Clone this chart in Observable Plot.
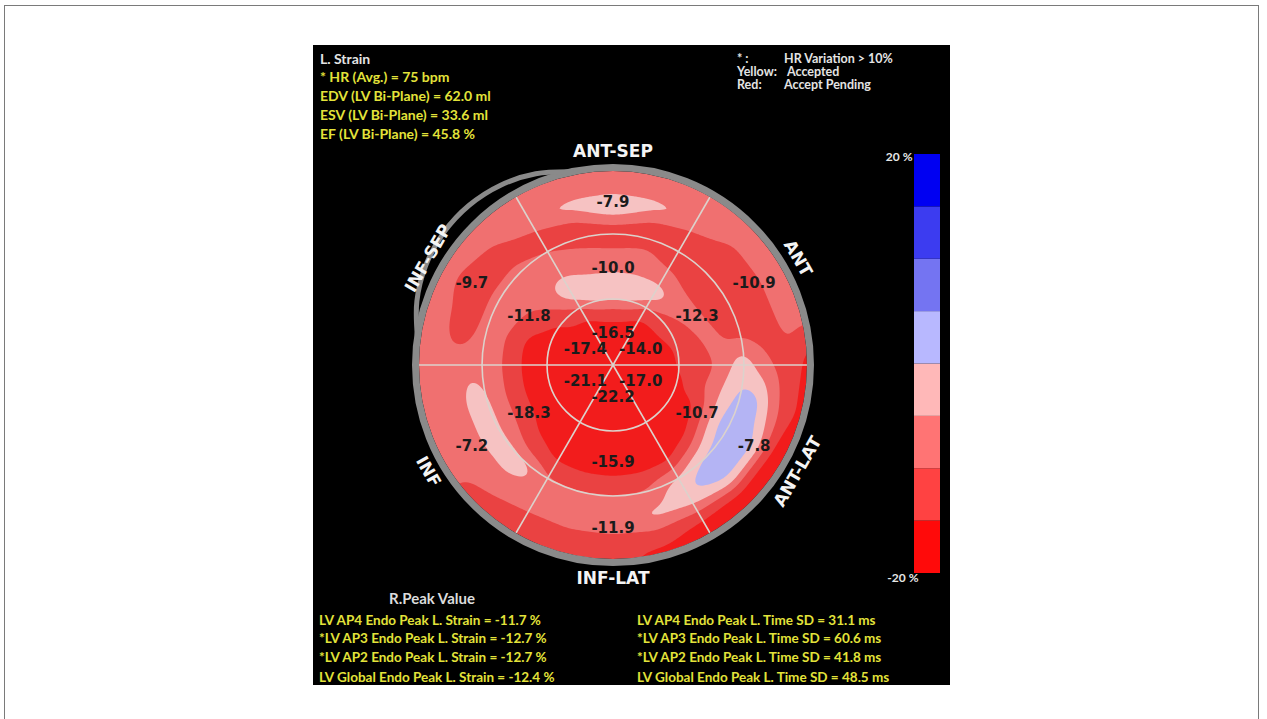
<!DOCTYPE html>
<html>
<head>
<meta charset="utf-8">
<script src="https://cdn.jsdelivr.net/npm/d3@7"></script>
<script src="https://cdn.jsdelivr.net/npm/@observablehq/plot@0.6"></script>
<style>
html, body { margin: 0; padding: 0; background: #fff; width: 1267px; height: 719px; overflow: hidden; }
#frame { position: absolute; left: 4px; top: 5px; width: 1255px; height: 730px; border: 1.5px solid #7a7a7a; border-bottom: none; box-sizing: border-box; }
#panel { position: absolute; left: 313px; top: 45px; width: 637px; height: 640px; background: #000; overflow: hidden; }
.t { position: absolute; z-index: 5; font-family: Lato, "DejaVu Sans", sans-serif; font-weight: bold; white-space: pre; }
.y { color: #e3e33a; font-size: 14px; line-height: 16px; }
.w { color: #e4e4e4; font-size: 14px; line-height: 16px; }
.n { color: #e4e4e4; font-size: 12.5px; line-height: 13px; }
.f { color: #e3e33a; font-size: 13.5px; line-height: 16px; }
#bull { position: absolute; left: 57px; top: 77px; z-index: 1; }
#legend { position: absolute; left: 557px; top: 99px; z-index: 2; }
</style>
</head>
<body>
<div id="frame"></div>
<div id="panel">
  <div id="bull"></div>
  <div id="legend"></div>
  <div id="header"></div>
  <div id="footer"></div>
</div>
<script>
// ---------- text content ----------
const headerLines = [
  {text: "L. Strain", cls: "w", top: 6},
  {text: "* HR (Avg.) = 75 bpm", cls: "y", top: 24},
  {text: "EDV (LV Bi-Plane) = 62.0 ml", cls: "y", top: 43},
  {text: "ESV (LV Bi-Plane) = 33.6 ml", cls: "y", top: 62},
  {text: "EF (LV Bi-Plane) = 45.8 %", cls: "y", top: 81}
];
const noteLines = [
  {a: "* :", b: "HR Variation > 10%", top: 7},
  {a: "Yellow:", b: "Accepted", top: 20, tight: true},
  {a: "Red:", b: "Accept Pending", top: 33}
];
const footerTitle = "R.Peak Value";
const footerLeft = [
  "LV AP4 Endo Peak L. Strain = -11.7 %",
  "*LV AP3 Endo Peak L. Strain = -12.7 %",
  "*LV AP2 Endo Peak L. Strain = -12.7 %",
  "LV Global Endo Peak L. Strain = -12.4 %"
];
const footerRight = [
  "LV AP4 Endo Peak L. Time SD = 31.1 ms",
  "*LV AP3 Endo Peak L. Time SD = 60.6 ms",
  "*LV AP2 Endo Peak L. Time SD = 41.8 ms",
  "LV Global Endo Peak L. Time SD = 48.5 ms"
];
const footerTops = [567, 585, 604, 624];

// ---------- segment data (18-segment bull's eye) ----------
const segmentAngles = [90, 30, -30, -90, -150, 150];
const wallNames = ["ANT-SEP", "ANT", "ANT-LAT", "INF-LAT", "INF", "INF-SEP"];
const wallRotate = [0, 60, -60, 0, 60, -60];
const outerValues = [-7.9, -10.9, -7.8, -11.9, -7.2, -9.7];
const midValues = [-10.0, -12.3, -10.7, -15.9, -18.3, -11.8];
const innerValues = [-16.5, -14.0, -17.0, -22.2, -21.1, -17.4];
const dividerAngles = [0, 60, 120, 180, 240, 300];
const ringRadii = [0.34, 0.675];

// ---------- strain map samples ----------
const centerStrain = -19;
const fieldAngles = [0, 15, 30, 45, 60, 75, 90, 105, 120, 135, 150, 165, 180, 195, 210, 225, 240, 255, 270, 285, 300, 315, 330, 345];
const fieldRadii = [0.05, 0.10, 0.15, 0.20, 0.25, 0.30, 0.35, 0.40, 0.45, 0.50, 0.55, 0.60, 0.65, 0.70, 0.75, 0.80, 0.85, 0.90, 0.95, 1.00];
const fieldValues = [
  /*   0 */ [-18,-18,-18,-18,-18,-18,-12,-12,-12,-12,-8,-8,-1,-1,-8,-8,-12,-12,-12,-18],
  /*  15 */ [-18,-18,-18,-18,-18,-18,-12,-12,-12,-8,-8,-12,-12,-12,-12,-12,-12,-8,-8,-8],
  /*  30 */ [-18,-18,-18,-18,-18,-12,-12,-12,-8,-8,-12,-12,-12,-12,-12,-12,-12,-8,-8,-8],
  /*  45 */ [-18,-18,-18,-18,-18,-12,-12,-8,-8,-8,-12,-12,-12,-12,-12,-12,-12,-8,-8,-8],
  /*  60 */ [-18,-18,-18,-18,-18,-12,-12,-1,-1,-8,-8,-12,-12,-12,-12,-12,-3.5,-8,-8,-8],
  /*  75 */ [-18,-18,-18,-18,-12,-12,-1,-1,-1,-8,-8,-8,-12,-12,-12,-8,-0.5,-8,-8,-8],
  /*  90 */ [-18,-18,-18,-18,-12,-12,-1,-1,-1,-8,-8,-8,-15.5,-12,-8,-0.5,-0.5,-8,-8,-8],
  /* 105 */ [-18,-18,-18,-18,-12,-12,-1,-1,-1,-8,-8,-8,-12,-12,-12,-8,-0.5,-8,-8,-8],
  /* 120 */ [-18,-18,-18,-18,-18,-12,-12,-1,-1,-1,-8,-8,-8,-12,-12,-12,-3.5,-8,-8,-8],
  /* 135 */ [-18,-18,-18,-18,-18,-12,-12,-12,-8,-8,-8,-8,-8,-8,-12,-12,-12,-8,-8,-8],
  /* 150 */ [-18,-18,-18,-18,-18,-18,-18,-12,-12,-12,-8,-8,-8,-8,-12,-12,-12,-12,-8,-8],
  /* 165 */ [-18,-18,-18,-18,-18,-18,-18,-18,-18,-12,-12,-8,-8,-8,-12,-12,-12,-8,-8,-8],
  /* 180 */ [-18,-18,-18,-18,-18,-18,-18,-18,-18,-12,-12,-8,-8,-8,-8,-8,-8,-8,-8,-8],
  /* 195 */ [-18,-18,-18,-18,-18,-18,-18,-18,-18,-12,-12,-8,-8,-0.5,-0.5,-8,-8,-8,-8,-8],
  /* 210 */ [-18,-18,-18,-18,-18,-18,-18,-18,-18,-12,-12,-8,-8,-0.5,-0.5,-8,-8,-8,-8,-8],
  /* 225 */ [-18,-18,-18,-18,-18,-18,-18,-18,-18,-18,-12,-12,-8,-0.5,-0.5,-8,-8,-8,-12,-12],
  /* 240 */ [-18,-18,-18,-18,-18,-18,-18,-18,-18,-18,-18,-12,-12,-8,-8,-8,-8,-12,-12,-12],
  /* 255 */ [-18,-18,-18,-18,-18,-18,-18,-18,-18,-18,-18,-12,-12,-8,-8,-8,-8,-12,-12,-12],
  /* 270 */ [-18,-18,-18,-18,-18,-18,-18,-18,-18,-18,-18,-12,-12,-8,-8,-8,-8,-12,-12,-12],
  /* 285 */ [-18,-18,-18,-18,-18,-18,-18,-18,-18,-18,-18,-12,-12,-8,-8,-1,-8,-12,-12,-18],
  /* 300 */ [-18,-18,-18,-18,-18,-18,-18,-18,-18,-18,-18,-12,-8,-1,-1,-1,-8,-12,-18,-18],
  /* 315 */ [-18,-18,-18,-18,-18,-18,-18,-18,-18,-18,-12,-8,-1,3,3,3,-1,-12,-18,-18],
  /* 330 */ [-18,-18,-18,-18,-18,-18,-18,-18,-18,-12,-8,-1,3,3,3,3,-1,-12,-18,-18],
  /* 345 */ [-18,-18,-18,-18,-18,-18,-18,-12,-12,-8,-8,-1,-1,3,3,-1,-8,-12,-12,-18]
];

// ---------- colour bar ----------
const legendLo = [-20, -15, -10, -5, 0, 5, 10, 15];
const legendHi = [-15, -10, -5, 0, 5, 10, 15, 20];
const bandBreaks = [-15, -10, -5, 0, 5, 10, 15];
const bullColors = ["#f21c1c", "#ea4242", "#f07070", "#f6c2c2", "#b4b4f4", "#7575ee", "#3c3cee", "#0000f0"];
const barColors = ["#ff0a0a", "#ff4242", "#ff7474", "#ffb8b8", "#b8b8ff", "#7474f2", "#3c3cf0", "#0000f2"];

// extra outer arc (top-left) : angle and offset beyond the ring
const arcAngles = [102, 112, 122, 132, 142, 152, 162, 172];
const arcOffsets = [0, 0.045, 0.075, 0.09, 0.09, 0.075, 0.045, 0];

// ---------- HTML text ----------
const header = document.getElementById("header");
headerLines.forEach(l => {
  const d = document.createElement("div");
  d.className = "t " + l.cls; d.style.left = "7px"; d.style.top = l.top + "px"; d.textContent = l.text;
  header.appendChild(d);
});
noteLines.forEach(l => {
  const a = document.createElement("div");
  a.className = "t n"; a.style.left = "424px"; a.style.top = l.top + "px"; a.textContent = l.a;
  header.appendChild(a);
  const b = document.createElement("div");
  b.className = "t n"; b.style.left = (l.tight ? "474px" : "471px"); b.style.top = l.top + "px"; b.textContent = l.b;
  header.appendChild(b);
});
const footer = document.getElementById("footer");
{
  const d = document.createElement("div");
  d.className = "t"; d.style.color = "#dcdcdc"; d.style.fontSize = "15px"; d.style.lineHeight = "16px";
  d.style.left = "76px"; d.style.top = "545px";
  d.textContent = footerTitle; footer.appendChild(d);
}
footerLeft.forEach((s, i) => {
  const d = document.createElement("div");
  d.className = "t f"; d.style.left = "6px"; d.style.top = footerTops[i] + "px"; d.textContent = s; footer.appendChild(d);
});
footerRight.forEach((s, i) => {
  const d = document.createElement("div");
  d.className = "t f"; d.style.left = "324px"; d.style.top = footerTops[i] + "px"; d.textContent = s; footer.appendChild(d);
});

// ---------- bull's eye ----------
const rad = a => a * Math.PI / 180;
const ext = 1.25, W = 485;
const pxPerUnit = W / (2 * ext);

const fieldPoints = [{x: 0, y: 0, v: centerStrain}];
fieldAngles.forEach((a, i) => fieldRadii.forEach((r, j) => {
  fieldPoints.push({x: r * Math.cos(rad(a)), y: r * Math.sin(rad(a)), v: fieldValues[i][j]});
}));

const segLabels = [];
[[outerValues, 0.84], [midValues, 0.5], [innerValues, 0.165]].forEach(([vals, r]) => {
  vals.forEach((v, i) => segLabels.push({x: r * Math.cos(rad(segmentAngles[i])), y: r * Math.sin(rad(segmentAngles[i])), text: v.toFixed(1)}));
});
const walls = wallNames.map((n, i) => ({name: n, rot: wallRotate[i], x: 1.1 * Math.cos(rad(segmentAngles[i])), y: 1.1 * Math.sin(rad(segmentAngles[i]))}));
const arcPts = arcAngles.map((a, i) => ({x: (1.018 + arcOffsets[i]) * Math.cos(rad(a)), y: (1.018 + arcOffsets[i]) * Math.sin(rad(a))}));
const origin = [{x: 0, y: 0}];

// raster bounds offset by a fraction of a pixel so that no pixel centre sits exactly on a sampling ray
const rb = 1.1;
const bull = Plot.plot({
  width: W, height: W, margin: 0,
  style: {background: "transparent", overflow: "hidden"},
  x: {domain: [-ext, ext], axis: null},
  y: {domain: [-ext, ext], axis: null},
  r: {type: "identity"},
  color: {type: "threshold", domain: bandBreaks, range: bullColors},
  marks: [
    Plot.dot(origin, {x: "x", y: "y", r: () => pxPerUnit, fill: bullColors[2], stroke: "none"}),
    Plot.contour(fieldPoints, {x: "x", y: "y", fill: "v", interpolate: "barycentric", blur: 3,
      x1: -rb - 0.00137, x2: rb + 0.00071, y1: -rb - 0.00113, y2: rb + 0.00049,
      thresholds: [-40, ...bandBreaks], stroke: "none"}),
    Plot.link(dividerAngles, {x1: () => 0, y1: () => 0, x2: a => Math.cos(rad(a)), y2: a => Math.sin(rad(a)),
      stroke: "#dcd2cc", strokeWidth: 1.6}),
    Plot.dot(ringRadii, {x: () => 0, y: () => 0, r: d => d * pxPerUnit, stroke: "#dcd2cc", strokeWidth: 1.6, fill: "none"}),
    // black mask outside the disc
    Plot.dot(origin, {x: "x", y: "y", r: () => 194 + 80, stroke: "#000", strokeWidth: 160, fill: "none"}),
    // grey rim
    Plot.dot(origin, {x: "x", y: "y", r: () => 1.018 * pxPerUnit, stroke: "#8a8a8a", strokeWidth: 7, fill: "none"}),
    Plot.line(arcPts, {x: "x", y: "y", curve: "catmull-rom", stroke: "#8a8a8a", strokeWidth: 5}),
    Plot.text(segLabels, {x: "x", y: "y", text: "text", fill: "#1b1b1b", fontSize: 15, fontWeight: "bold",
      fontFamily: "DejaVu Sans"}),
    Plot.text(walls, {x: "x", y: "y", text: "name", rotate: "rot", fill: "#f4f4f4", fontSize: 17, fontWeight: "bold",
      fontFamily: "DejaVu Sans"})
  ]
});
document.getElementById("bull").appendChild(bull);

// ---------- colour bar ----------
const legend = Plot.plot({
  width: 75, height: 440, marginTop: 10, marginBottom: 11, marginLeft: 44, marginRight: 5,
  style: {background: "transparent", overflow: "visible"},
  x: {domain: [0, 1], axis: null},
  y: {domain: [-20, 20], axis: null},
  color: {type: "threshold", domain: bandBreaks, range: barColors},
  marks: [
    Plot.rect(legendLo, {x1: () => 0, x2: () => 1, y1: d => d, y2: (d, i) => legendHi[i], fill: d => d, inset: 0}),
    Plot.text([legendHi[legendHi.length - 1]], {x: () => 0, y: d => d, text: d => `${d} %`, textAnchor: "end", dx: -2, dy: 3,
      fill: "#e6e6e6", fontSize: 12, fontWeight: "bold", fontFamily: "Lato"}),
    Plot.text([legendLo[0]], {x: () => 0, y: d => d, text: d => `${d} %`, textAnchor: "end", dx: 4, dy: 5,
      fill: "#e6e6e6", fontSize: 12, fontWeight: "bold", fontFamily: "Lato"})
  ]
});
document.getElementById("legend").appendChild(legend);
</script>
</body>
</html>
